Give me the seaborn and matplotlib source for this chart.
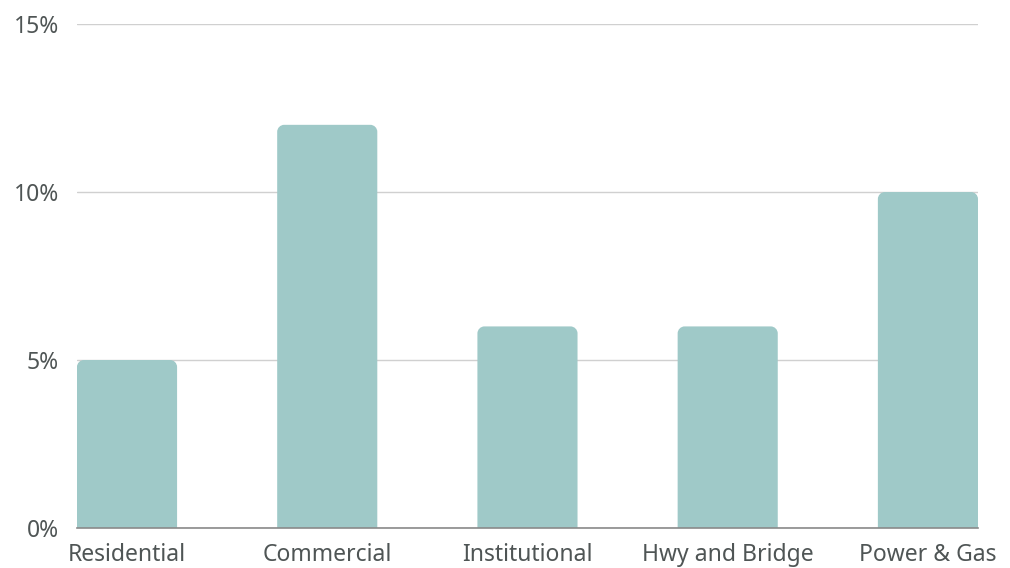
import matplotlib
matplotlib.use("Agg")
import matplotlib.pyplot as plt
from matplotlib.path import Path
from matplotlib.patches import PathPatch
from matplotlib.ticker import FuncFormatter, MultipleLocator
import seaborn as sns
import pandas as pd

# Growth by construction sector (%)
sectors = ["Residential", "Commercial", "Institutional", "Hwy and Bridge", "Power & Gas"]
growth = [5, 12, 6, 6, 10]

BAR_COLOR = "#9fc9c8"
TEXT_COLOR = "#4f5555"
GRID_COLOR = "#d0d0d0"
BASE_COLOR = "#8a8a8a"

sns.set_theme(style="white")
plt.rcParams["font.family"] = ["Noto Sans", "DejaVu Sans"]

df = pd.DataFrame({"sector": sectors, "growth": growth})

fig = plt.figure(figsize=(10.1, 5.68), dpi=100)
ax = fig.add_axes([0.0762, 0.0704, 0.8921, 0.8873])

sns.barplot(data=df, x="sector", y="growth", color=BAR_COLOR, width=0.5,
            saturation=1, ax=ax, zorder=3)

ax.set_xlim(-0.25, 4.25)
ax.set_ylim(0, 15)
ax.yaxis.set_major_locator(MultipleLocator(5))
ax.yaxis.set_major_formatter(FuncFormatter(lambda v, _: f"{v:.0f}%"))
ax.set_xlabel("")
ax.set_ylabel("")

ax.grid(axis="y", color=GRID_COLOR, linewidth=1.0, zorder=0)
ax.grid(axis="x", visible=False)
for side in ["top", "right", "left"]:
    ax.spines[side].set_visible(False)
ax.spines["bottom"].set_color(BASE_COLOR)
ax.spines["bottom"].set_linewidth(1.2)
ax.spines["bottom"].set_zorder(4)

ax.tick_params(axis="y", length=0, pad=13, labelsize=16.5, labelcolor=TEXT_COLOR)
ax.tick_params(axis="x", length=0, pad=10.5, labelsize=16.5, labelcolor=TEXT_COLOR)

# Round the top corners of each bar
fig.canvas.draw()
radius_px = 7
to_data = ax.transData.inverted()
for patch in list(ax.patches):
    x0, y0 = patch.get_x(), patch.get_y()
    w, h = patch.get_width(), patch.get_height()
    p0 = ax.transData.transform((0, 0))
    p1 = to_data.transform((p0[0] + radius_px, p0[1] + radius_px))
    rx, ry = p1[0], p1[1]
    k = 0.5523
    x1, y1 = x0 + w, y0 + h
    verts = [
        (x0, y0),
        (x0, y1 - ry),
        (x0, y1 - ry + k * ry), (x0 + rx - k * rx, y1), (x0 + rx, y1),
        (x1 - rx, y1),
        (x1 - rx + k * rx, y1), (x1, y1 - ry + k * ry), (x1, y1 - ry),
        (x1, y0),
        (x0, y0),
    ]
    codes = [Path.MOVETO, Path.LINETO,
             Path.CURVE4, Path.CURVE4, Path.CURVE4,
             Path.LINETO,
             Path.CURVE4, Path.CURVE4, Path.CURVE4,
             Path.LINETO, Path.CLOSEPOLY]
    rounded = PathPatch(Path(verts, codes), facecolor=patch.get_facecolor(),
                        edgecolor="none", zorder=3)
    patch.remove()
    ax.add_patch(rounded)

fig.savefig("out.png", dpi=100, facecolor="white")
